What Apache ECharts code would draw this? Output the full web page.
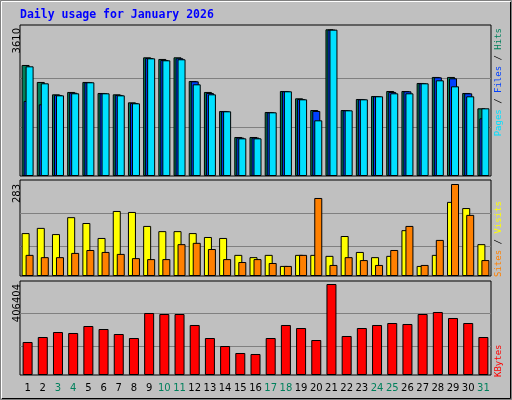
<!DOCTYPE html>
<html><head><meta charset="utf-8">
<script src="https://cdn.jsdelivr.net/npm/echarts@6/dist/echarts.min.js"></script>
<style>html,body{margin:0;padding:0;background:#c0c0c0}#c{width:512px;height:400px}</style>
</head><body><div id="c"></div>
<script>
const days = ['1','2','3','4','5','6','7','8','9','10','11','12','13','14','15','16','17','18','19','20','21','22','23','24','25','26','27','28','29','30','31'];
const weekend = ['3','4','10','11','17','18','24','25','31'];
const hits  = [2732,2314,2010,2068,2314,2043,2010,1813,2921,2880,2921,2338,2068,1600,960,960,1575,2092,1912,1624,3610,1624,1895,1969,2092,2092,2289,2437,2437,2043,1666];
const files = [1846,1764,1995,2050,2306,2035,1995,1797,2904,2855,2896,2330,2043,1592,944,944,1567,2084,1895,1600,3602,1616,1887,1961,2068,2084,2281,2429,2404,2035,1419];
const pages = [2699,2281,1985,2035,2306,2035,1985,1789,2896,2847,2872,2256,2010,1592,927,927,1567,2084,1887,1370,3602,1616,1887,1961,2035,2035,2281,2355,2207,1961,1666];
const visits = [132,148,129,181,163,117,200,197,154,138,138,132,120,117,65,58,65,31,65,65,62,123,74,58,62,141,31,65,228,209,98];
const sites  = [65,58,58,71,80,74,68,55,52,52,98,102,83,52,43,52,40,31,65,240,34,58,49,34,80,154,34,111,283,188,49];
const kbytes = [147400,169700,192000,187600,218800,205400,183100,165200,276900,272400,272400,223300,165200,129500,98300,93800,165200,223300,209900,156300,406404,174200,209900,223300,232200,227800,272400,281400,254600,232200,169700];
const topMax = 3610, midMax = 283, botMax = 406404;

const chart = echarts.init(document.getElementById('c'));
const grids = [
  {left:20, right:21, top:25, height:151},
  {left:20, right:21, top:180, height:96},
  {left:20, right:21, top:281, height:94}
];
const xa = (i, show) => ({type:'category', data:days, gridIndex:i,
  axisLine:{show:false}, axisTick:{show:false},
  axisLabel:{show:show, interval:0, margin:8, fontFamily:'DejaVu Sans', fontSize:10,
    color:(v)=>weekend.includes(v)?'#00805c':'#000'}});
const ya = (i, max) => ({type:'value', gridIndex:i, min:0, max:max, show:false, splitLine:{show:false}});
const bs = {borderColor:'#000', borderWidth:1};
const ml = (vals) => ({silent:true, symbol:'none', label:{show:false}, lineStyle:{color:'#808080', type:'solid', width:1}, data:vals.map(v=>({yAxis:v})), z:0});
chart.setOption({
  animation:false,
  backgroundColor:'#c0c0c0',
  grid: grids.map(g=>Object.assign({show:true, borderColor:'#000', borderWidth:1, backgroundColor:'#c0c0c0'}, g)),
  xAxis:[xa(0,false), xa(1,false), xa(2,true)],
  yAxis:[ya(0, topMax*151/146.7), ya(1, midMax*96/92), ya(2, botMax*94/91)],
  series:[
    {type:'bar', xAxisIndex:0, yAxisIndex:0, data:hits, barWidth:8, barGap:'-75%', itemStyle:Object.assign({color:'#00805c'},bs), markLine:ml([topMax/3, topMax*2/3])},
    {type:'bar', xAxisIndex:0, yAxisIndex:0, data:files, barWidth:8, barGap:'-75%', itemStyle:Object.assign({color:'#0040ff'},bs)},
    {type:'bar', xAxisIndex:0, yAxisIndex:0, data:pages, barWidth:8, barGap:'-75%', itemStyle:Object.assign({color:'#00e0ff'},bs)},
    {type:'bar', xAxisIndex:1, yAxisIndex:1, data:visits, barWidth:8, barGap:'-50%', itemStyle:Object.assign({color:'#ffff00'},bs), markLine:ml([midMax*0.326, midMax*0.685])},
    {type:'bar', xAxisIndex:1, yAxisIndex:1, data:sites, barWidth:8, barGap:'-50%', itemStyle:Object.assign({color:'#ff8000'},bs)},
    {type:'bar', xAxisIndex:2, yAxisIndex:2, data:kbytes, barWidth:10, itemStyle:Object.assign({color:'#ff0000'},bs), markLine:ml([botMax*0.319, botMax*0.681])}
  ],
  graphic:[
    {type:'rect', shape:{x:0.5,y:0.5,width:511,height:399}, style:{fill:'none', stroke:'#808080', lineWidth:1}, z:-1},
    {type:'polyline', shape:{points:[[1.5,398],[1.5,1.5],[510,1.5]]}, style:{stroke:'#fff', lineWidth:1, fill:'none'}},
    {type:'polyline', shape:{points:[[2,398.5],[510.5,398.5],[510.5,2]]}, style:{stroke:'#000', lineWidth:1, fill:'none'}},
    {type:'text', x:20, y:15, style:{text:'Daily usage for January 2026', fill:'#0000ff', font:'bold 11.5px "DejaVu Sans Mono"', verticalAlign:'middle'}},
    {type:'text', x:12, y:28, rotation:Math.PI/2, style:{text:String(topMax), fill:'#000', font:'10px "DejaVu Sans"', align:'right', verticalAlign:'top'}},
    {type:'text', x:12, y:184, rotation:Math.PI/2, style:{text:String(midMax), fill:'#000', font:'10px "DejaVu Sans"', align:'right', verticalAlign:'top'}},
    {type:'text', x:12, y:284, rotation:Math.PI/2, style:{text:String(botMax), fill:'#000', font:'10px "DejaVu Sans"', align:'right', verticalAlign:'top'}},
    {type:'text', x:494, y:28, rotation:Math.PI/2, style:{text:'{p|Pages}{s| / }{f|Files}{s| / }{h|Hits}', align:'right', verticalAlign:'top', font:'9px "DejaVu Sans Mono"',
      rich:{p:{fill:'#00e0ff',font:'9px "DejaVu Sans Mono"'}, f:{fill:'#0040ff',font:'9px "DejaVu Sans Mono"'}, h:{fill:'#00805c',font:'9px "DejaVu Sans Mono"'}, s:{fill:'#000',font:'9px "DejaVu Sans Mono"'}}}},
    {type:'text', x:494, y:277, rotation:Math.PI/2, style:{text:'{a|Sites}{s| / }{b|Visits}', align:'left', verticalAlign:'top', font:'9px "DejaVu Sans Mono"',
      rich:{a:{fill:'#ff8000',font:'9px "DejaVu Sans Mono"'}, b:{fill:'#ffff00',font:'9px "DejaVu Sans Mono"'}, s:{fill:'#000',font:'9px "DejaVu Sans Mono"'}}}},
    {type:'text', x:494, y:377, rotation:Math.PI/2, style:{text:'KBytes', fill:'#ff0000', align:'left', verticalAlign:'top', font:'9px "DejaVu Sans Mono"'}}
  ]
});
</script></body></html>
